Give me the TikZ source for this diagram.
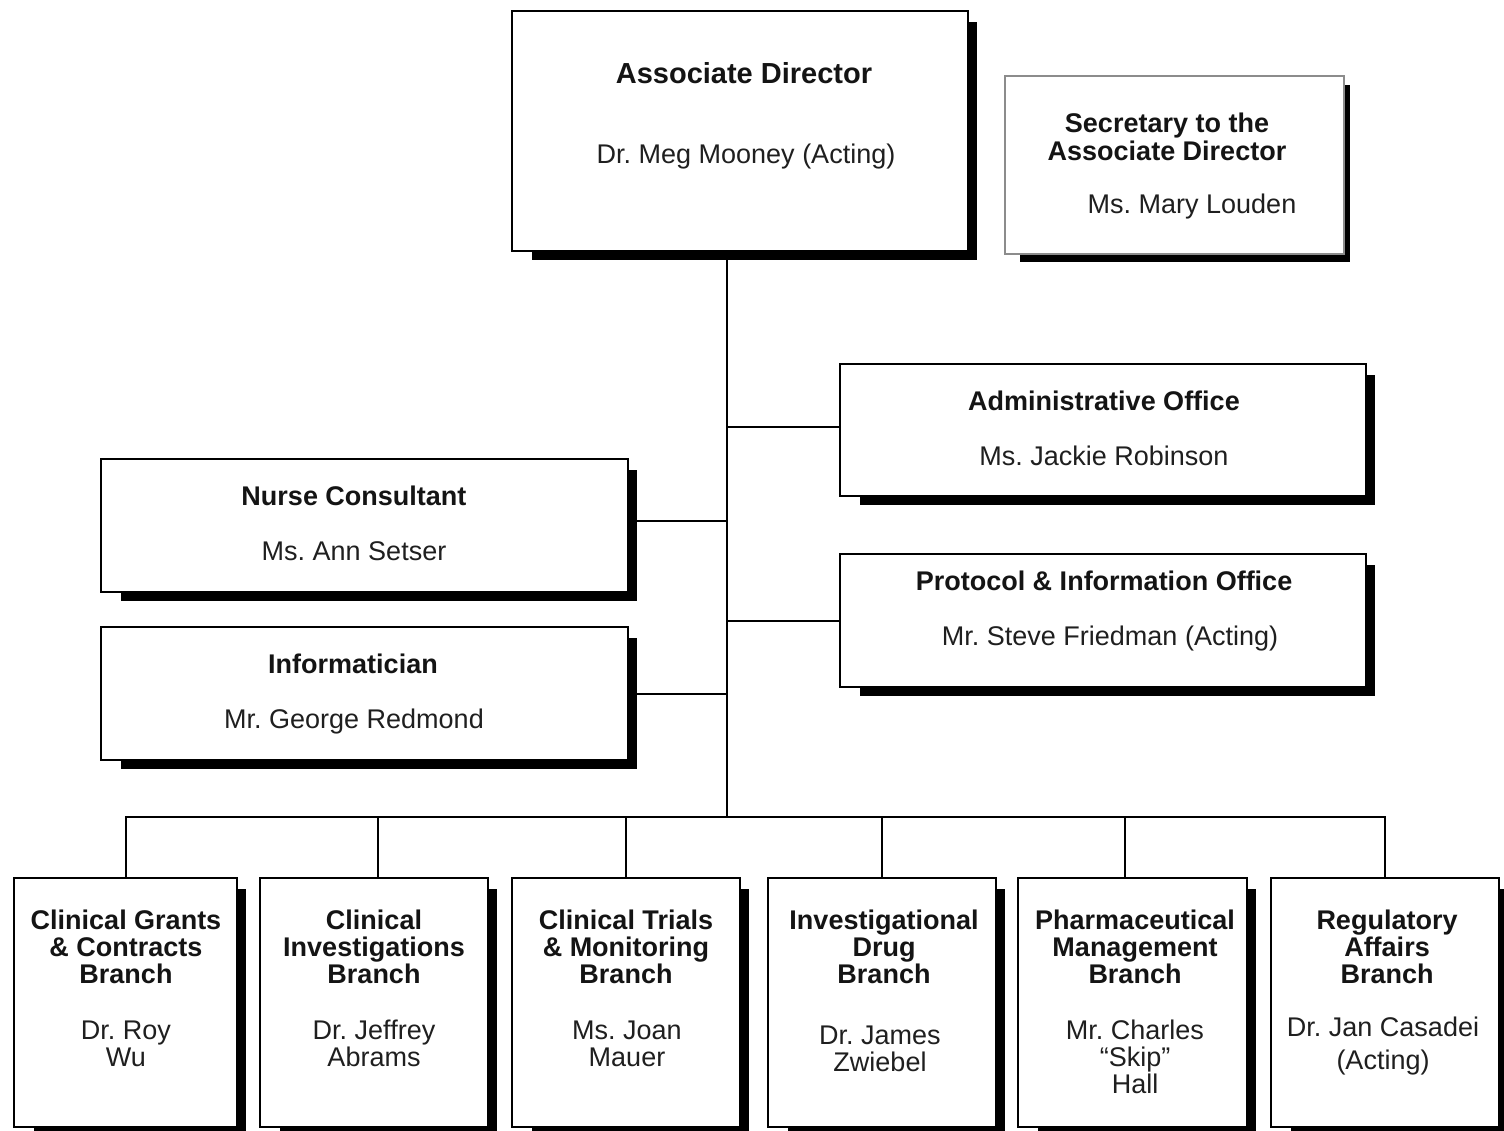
\documentclass[tikz,border=0pt]{standalone}
\usepackage{fontspec}
\setmainfont{Liberation Sans}
\frenchspacing

\tikzset{
  box/.style={draw=black, line width=2pt, fill=white, inner sep=0pt, outer sep=0pt},
  softbox/.style={box, draw=black!45, line width=2.6pt},
  ttl/.style={font=\bfseries\fontsize{27}{27}\selectfont, align=center, anchor=base,
              inner sep=0pt, text=black!92},
  bigttl/.style={ttl, font=\bfseries\fontsize{29}{30}\selectfont},
  who/.style={font=\fontsize{27}{27}\selectfont, align=center, anchor=base,
              inner sep=0pt, text=black!88},
  link/.style={line width=2pt, line cap=rect},
}

% box with a solid drop shadow: [style] name, left, top, right, bottom
\newcommand\orgbox[6][box]{%
  \fill[black] ({#3+20},{#4+11}) rectangle ({#5+9},{#6+9});
  \node[#1, minimum width={#5-#3}, minimum height={#6-#4}] (#2)
       at ({(#3+#5)/2},{(#4+#6)/2}) {};
}

\begin{document}
\begin{tikzpicture}[x=1pt, y=-1pt]
\useasboundingbox (0,0) rectangle (1504,1130);
\clip (0,0) rectangle (1504,1130);

% multi-line labels are placed by the baseline of their last line

% ---- director and secretary
\orgbox{ad}{512}{11}{968}{251}
\node[bigttl] (adT) at (744,83) {Associate Director};
\node[who] (adN) at (746,163) {Dr. Meg Mooney (Acting)};

\fill[black] (1020,85) rectangle (1350,262);
\node[softbox, minimum width=339, minimum height=178] (sec) at (1174.5,165) {};
\node[ttl, font=\bfseries\fontsize{27}{28}\selectfont] (secT) at (1167,160) {Secretary to the\\Associate Director};
\node[who] (secN) at (1192,213) {Ms. Mary Louden};

% ---- staff offices
\orgbox{adm}{840}{364}{1366}{496}
\node[ttl] (admT) at (1104,410) {Administrative Office};
\node[who] (admN) at (1104,465) {Ms. Jackie Robinson};

\orgbox{pio}{840}{554}{1366}{687}
\node[ttl] (pioT) at (1104,590) {Protocol \& Information Office};
\node[who] (pioN) at (1110,645) {Mr. Steve Friedman (Acting)};

\orgbox{nur}{101}{459}{628}{592}
\node[ttl] (nurT) at (354,505) {Nurse Consultant};
\node[who] (nurN) at (354,560) {Ms. Ann Setser};

\orgbox{inf}{101}{627}{628}{760}
\node[ttl] (infT) at (353,673) {Informatician};
\node[who] (infN) at (354,728) {Mr. George Redmond};

% ---- branches
\orgbox{b1}{14}{878}{237}{1127}
\node[ttl] (b1T) at (126,983) {Clinical Grants\\\& Contracts\\Branch};
\node[who] (b1N) at (126,1066) {Dr. Roy\\Wu};

\orgbox{b2}{260}{878}{488}{1127}
\node[ttl] (b2T) at (374,983) {Clinical\\Investigations\\Branch};
\node[who] (b2N) at (374,1066) {Dr. Jeffrey\\Abrams};

\orgbox{b3}{512}{878}{740}{1127}
\node[ttl] (b3T) at (626,983) {Clinical Trials\\\& Monitoring\\Branch};
\node[who] (b3N) at (627,1066) {Ms. Joan\\Mauer};

\orgbox{b4}{768}{878}{996}{1127}
\node[ttl] (b4T) at (884,983) {Investigational\\Drug\\Branch};
\node[who] (b4N) at (880,1071) {Dr. James\\Zwiebel};

\orgbox{b5}{1018}{878}{1247}{1127}
\node[ttl] (b5T) at (1135,983) {Pharmaceutical\\Management\\Branch};
\node[who] (b5N) at (1135,1093) {Mr. Charles\\“Skip”\\Hall};

\orgbox{b6}{1271}{878}{1499}{1127}
\node[ttl] (b6T) at (1387,983) {Regulatory\\Affairs\\Branch};
\node[who, font=\fontsize{27}{33}\selectfont] (b6N) at (1383,1069) {Dr. Jan Casadei\\(Acting)};

% ---- connectors
\coordinate (hub) at (727,817);
\draw[link] (ad.south -| hub) -- (hub);
\draw[link] ([yshift=3pt]adm.west) -- ([yshift=3pt]adm.west -| hub);
\draw[link] (pio.west) -- (pio.west -| hub);
\draw[link] ([yshift=4.5pt]nur.east) -- ([yshift=4.5pt]nur.east -| hub);
\draw[link] (inf.east) -- (inf.east -| hub);
\draw[link] (b1.north |- hub) -- (b6.north |- hub);
\draw[link] (b1.north) -- (b1.north |- hub);
\draw[link] ([xshift=4pt]b2.north) -- ([xshift=4pt]b2.north |- hub);
\draw[link] (b3.north) -- (b3.north |- hub);
\draw[link] (b4.north) -- (b4.north |- hub);
\draw[link] ([xshift=-8pt]b5.north) -- ([xshift=-8pt]b5.north |- hub);
\draw[link] (b6.north) -- (b6.north |- hub);
\end{tikzpicture}
\end{document}
